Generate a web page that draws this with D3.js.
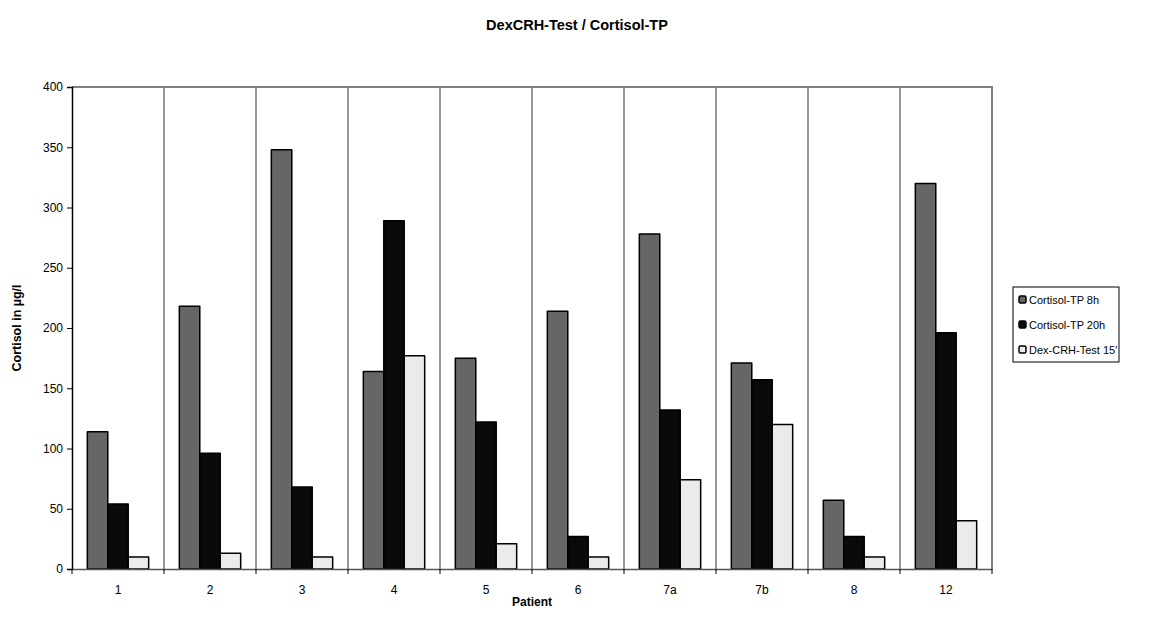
<!DOCTYPE html>
<html>
<head>
<meta charset="utf-8">
<script src="https://cdn.jsdelivr.net/npm/d3@7"></script>
<style>
  body { margin: 0; background: #fff; }
  text { font-family: "Liberation Sans", Arial, sans-serif; fill: #000; }
</style>
</head>
<body>
<script>
const patients = ['1', '2', '3', '4', '5', '6', '7a', '7b', '8', '12'];
const seriesNames = ['Cortisol-TP 8h', 'Cortisol-TP 20h', "Dex-CRH-Test 15'"];
const cortisol8h = [114, 218, 348, 164, 175, 214, 278, 171, 57, 320];
const cortisol20h = [54, 96, 68, 289, 122, 27, 132, 157, 27, 196];
const dexCrh15 = [10, 13, 10, 177, 21, 10, 74, 120, 10, 40];
const yTicks = [0, 50, 100, 150, 200, 250, 300, 350, 400];
const seriesColors = ['#666666', '#0a0a0a', '#ebebeb'];

window.onload = () => {
    const width = 1164;
    const height = 623;
    const m = { left: 72, right: 992, top: 87, bottom: 569 };

    const svg = d3.select('body')
                  .append('svg')
                  .attr('width', width)
                  .attr('height', height);

    const x = d3.scaleBand()
                .domain(patients)
                .range([m.left, m.right]);

    const inner = d3.scaleBand()
                    .domain(d3.range(3))
                    .range([0, x.bandwidth()])
                    .paddingInner(0)
                    .paddingOuter(0.75);

    const y = d3.scaleLinear()
                .domain([0, 400])
                .range([m.bottom, m.top]);

    // vertical gridlines between categories
    svg.append('g')
       .selectAll('line')
       .data(patients.slice(1))
       .enter()
       .append('line')
       .attr('x1', d => x(d))
       .attr('x2', d => x(d))
       .attr('y1', m.top)
       .attr('y2', m.bottom)
       .style('stroke', '#333')
       .style('stroke-width', 1);

    // plot frame top / right
    svg.append('path')
       .attr('d', `M ${m.left} ${m.top} H ${m.right} V ${m.bottom}`)
       .style('fill', 'none')
       .style('stroke', '#808080')
       .style('stroke-width', 2);

    const series = [cortisol8h, cortisol20h, dexCrh15];

    series.forEach((vals, si) => {
        svg.append('g')
           .selectAll('rect')
           .data(vals)
           .enter()
           .append('rect')
           .attr('x', (d, i) => x(patients[i]) + inner(si))
           .attr('y', d => y(d))
           .attr('width', inner.bandwidth())
           .attr('height', d => m.bottom - y(d))
           .style('fill', seriesColors[si])
           .style('stroke', '#000')
           .style('stroke-width', 1.5)
           .style('stroke-linejoin', 'round');
    });

    // y axis
    const yAxis = svg.append('g')
       .attr('transform', `translate(${m.left},0)`)
       .call(d3.axisLeft(y).tickValues(yTicks).tickSize(5).tickPadding(4));
    yAxis.select('.domain').style('stroke', '#000').style('stroke-width', 1.5);
    yAxis.selectAll('.tick line').style('stroke', '#000');
    yAxis.selectAll('text').style('font-size', '12px');

    // x axis
    const xAxis = svg.append('g')
       .attr('transform', `translate(0,${m.bottom})`)
       .call(d3.axisBottom(x).tickSize(0).tickPadding(16));
    xAxis.select('.domain').style('stroke', '#555').style('stroke-width', 1.5);
    xAxis.selectAll('text').style('font-size', '12px');

    // ticks between categories
    svg.append('g')
       .selectAll('line')
       .data(patients.concat(['end']))
       .enter()
       .append('line')
       .attr('x1', (d, i) => i < patients.length ? x(d) : m.right)
       .attr('x2', (d, i) => i < patients.length ? x(d) : m.right)
       .attr('y1', m.bottom)
       .attr('y2', m.bottom + 5)
       .style('stroke', '#000');

    // title
    svg.append('text')
       .text('DexCRH-Test / Cortisol-TP')
       .attr('x', 577)
       .attr('y', 30)
       .attr('text-anchor', 'middle')
       .style('font-size', '14.5px')
       .style('font-weight', 'bold');

    // axis titles
    svg.append('text')
       .text('Patient')
       .attr('x', (m.left + m.right) / 2)
       .attr('y', 606)
       .attr('text-anchor', 'middle')
       .style('font-size', '12px')
       .style('font-weight', 'bold');

    svg.append('text')
       .text('Cortisol in µg/l')
       .attr('transform', `translate(21,${(m.top + m.bottom) / 2}) rotate(-90)`)
       .attr('text-anchor', 'middle')
       .style('font-size', '12.5px')
       .style('font-weight', 'bold');

    // legend
    const lg = svg.append('g').attr('transform', 'translate(1013,287)');
    lg.append('rect')
      .attr('width', 106)
      .attr('height', 75)
      .style('fill', '#fff')
      .style('stroke', '#000')
      .style('stroke-width', 1);

    const items = lg.selectAll('.item')
      .data(seriesNames)
      .enter()
      .append('g')
      .attr('class', 'item')
      .attr('transform', (d, i) => `translate(6,${13 + i * 25})`);

    items.append('rect')
      .attr('x', 0)
      .attr('y', -4)
      .attr('width', 7)
      .attr('height', 7)
      .attr('rx', 1.5)
      .style('fill', (d, i) => seriesColors[i])
      .style('stroke', '#000')
      .style('stroke-width', 1.5);

    items.append('text')
      .text(d => d)
      .attr('x', 10)
      .attr('y', 4)
      .style('font-size', '11px');
};
</script>
</body>
</html>
